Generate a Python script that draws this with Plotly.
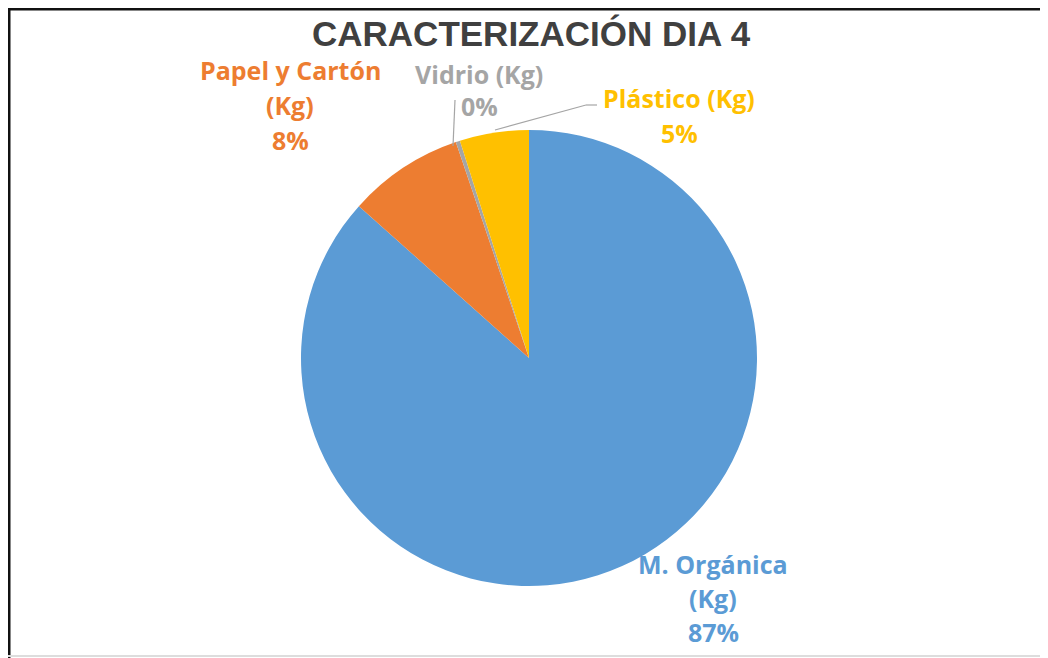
import plotly.graph_objects as go

# Data: share of each waste type (percent), in drawing order (clockwise from 12 o'clock)
labels = ["M. Orgánica (Kg)", "Papel y Cartón (Kg)", "Vidrio (Kg)", "Plástico (Kg)"]
values = [86.6, 8.2, 0.3, 4.9]
colors = ["#5B9BD5", "#ED7D31", "#A5A5A5", "#FFC000"]

# label lines: each label broken in lines as in the original
label_lines = [
    ["M. Orgánica", "(Kg)"],
    ["Papel y Cartón", "(Kg)"],
    ["Vidrio (Kg)"],
    ["Plástico (Kg)"],
]
# label centre (px in the picture) of first line and line spacing
label_pos = [(713, 564, 34), (290, 70, 35), (479, 74, 32), (679, 98, 35)]

W, H = 1048, 658
OFF = 8  # page body margin


def px(x):
    return (x - OFF) / W


def py(y):
    return 1 - (y - OFF) / H


cx, cy, r = 529, 358, 228

fig = go.Figure(go.Pie(
    labels=labels,
    values=values,
    sort=False,
    direction="clockwise",
    rotation=0,
    marker=dict(colors=colors, line=dict(width=0)),
    textinfo="none",
    hoverinfo="label+percent",
    domain=dict(x=[px(cx - r), px(cx + r)], y=[py(cy + r), py(cy - r)]),
    showlegend=False,
))

total = sum(values)
annotations = []
for lines, (lx, ly, step), col, v in zip(label_lines, label_pos, colors, values):
    pct = f"{round(v / total * 100)}%"
    for i, t in enumerate(lines + [pct]):
        annotations.append(dict(
            x=px(lx), y=py(ly + i * step), xref="paper", yref="paper",
            text=t, showarrow=False, xanchor="center", yanchor="middle",
            font=dict(family="Open Sans", size=25, color=col, weight="bold"),
        ))

annotations.append(dict(
    x=px(531), y=py(34), xref="paper", yref="paper",
    text="<b>CARACTERIZACIÓN DIA 4</b>", showarrow=False,
    xanchor="center", yanchor="middle",
    font=dict(family="Liberation Sans", size=35, color="#404040"),
))

shapes = [
    # frame
    dict(type="line", xref="paper", yref="paper", x0=0, x1=1, y0=1 - 1 / H, y1=1 - 1 / H,
         line=dict(color="#111111", width=3)),
    dict(type="line", xref="paper", yref="paper", x0=1 / W, x1=1 / W, y0=0, y1=1,
         line=dict(color="#111111", width=3)),
    dict(type="line", xref="paper", yref="paper", x0=px(8), x1=1, y0=py(656), y1=py(656),
         line=dict(color="#DDDDDD", width=2)),
    # leader lines
    dict(type="line", xref="paper", yref="paper", x0=px(453), x1=px(455),
         y0=py(146), y1=py(100), line=dict(color="#A5A5A5", width=1.2)),
    dict(type="line", xref="paper", yref="paper", x0=px(495), x1=px(586),
         y0=py(130), y1=py(105), line=dict(color="#A5A5A5", width=1.2)),
    dict(type="line", xref="paper", yref="paper", x0=px(586), x1=px(597),
         y0=py(105), y1=py(105), line=dict(color="#A5A5A5", width=1.2)),
]

fig.update_layout(
    width=W, height=H,
    margin=dict(l=0, r=0, t=0, b=0),
    paper_bgcolor="white",
    plot_bgcolor="white",
    annotations=annotations,
    shapes=shapes,
)

fig.write_html("out.html")
